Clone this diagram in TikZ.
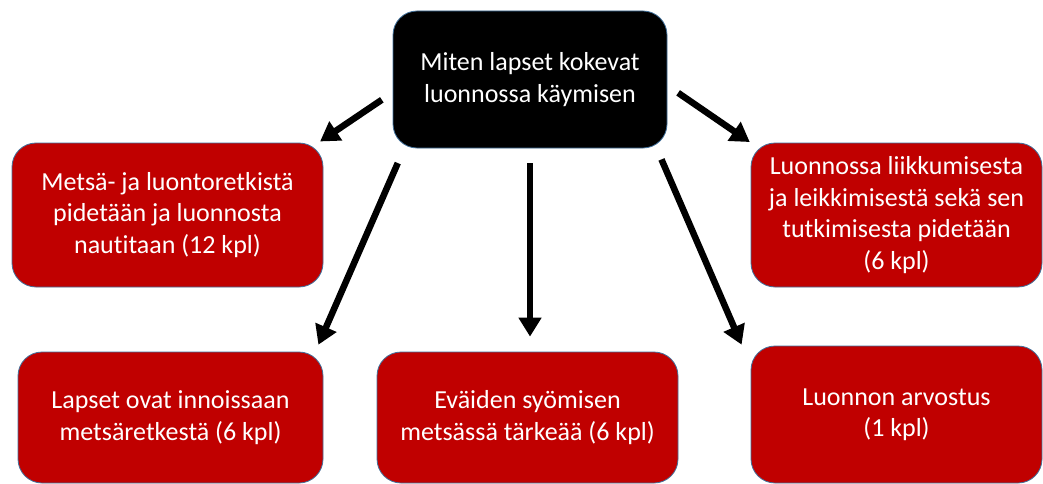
\documentclass[tikz,border=0pt]{standalone}
\usepackage{fontspec}
\setmainfont{Carlito}[Ligatures=NoCommon]
\usetikzlibrary{arrows.meta}
\definecolor{boxred}{HTML}{C00000}
\definecolor{edgeblue}{HTML}{41719C}
\tikzset{
  box/.style={rectangle, rounded corners=24pt, draw=edgeblue, line width=0.8pt,
    text=white, align=center, inner sep=0pt,
    font=\fontsize{26}{31.5}\selectfont},
  redbox/.style={box, fill=boxred},
  blackbox/.style={box, fill=black},
  arr/.style={line width=6.5pt, -{Triangle[width=22pt,length=19pt]}}
}
\begin{document}
\begin{tikzpicture}[x=1pt,y=-1pt]
\fill[white] (0,0) rectangle (1043,484);
\useasboundingbox (0,0) rectangle (1043,484);
\node[blackbox, minimum width=274pt, minimum height=137pt] (top) at (530,79.5)
  {Miten lapset kokevat\\luonnossa käymisen};
\node[redbox, minimum width=311pt, minimum height=144pt] (tl) at (167.5,215)
  {Metsä- ja luontoretkistä\\pidetään ja luonnosta\\nautitaan (12 kpl)};
\node[redbox, minimum width=291pt, minimum height=144pt] (tr) at (896.5,215)
  {Luonnossa liikkumisesta\\ja leikkimisestä sekä sen\\tutkimisesta pidetään\\(6 kpl)};
\node[redbox, minimum width=305pt, minimum height=131pt] (bl) at (170.5,417.5)
  {Lapset ovat innoissaan\\metsäretkestä (6 kpl)};
\node[redbox, minimum width=301pt, minimum height=131pt] (bm) at (527.5,417.5)
  {Eväiden syömisen\\metsässä tärkeää (6 kpl)};
\node[redbox, minimum width=291pt, minimum height=137pt] (br) at (896.5,414.5)
  {Luonnon arvostus\\(1 kpl)};
% arrows
\draw[arr, shorten <=13pt, shorten >=2pt] ([yshift=-13pt]top.west) -- ([xshift=-5pt]tl.north east);
\draw[arr, shorten <=13pt, shorten >=1pt] ([yshift=-6pt]top.east) -- (tr.north west);
\draw[arr, shorten <=16pt, shorten >=7.5pt] ([xshift=11.6pt]top.south west) -- ([xshift=-8pt]bl.north east);
\draw[arr, shorten <=15pt, shorten >=15pt] (top.south) -- (top.south |- bm.north);
\draw[arr, shorten <=12pt, shorten >=1pt] ([xshift=-10.7pt]top.south east) -- ([xshift=-8.6pt]br.north west);
\end{tikzpicture}
\end{document}
